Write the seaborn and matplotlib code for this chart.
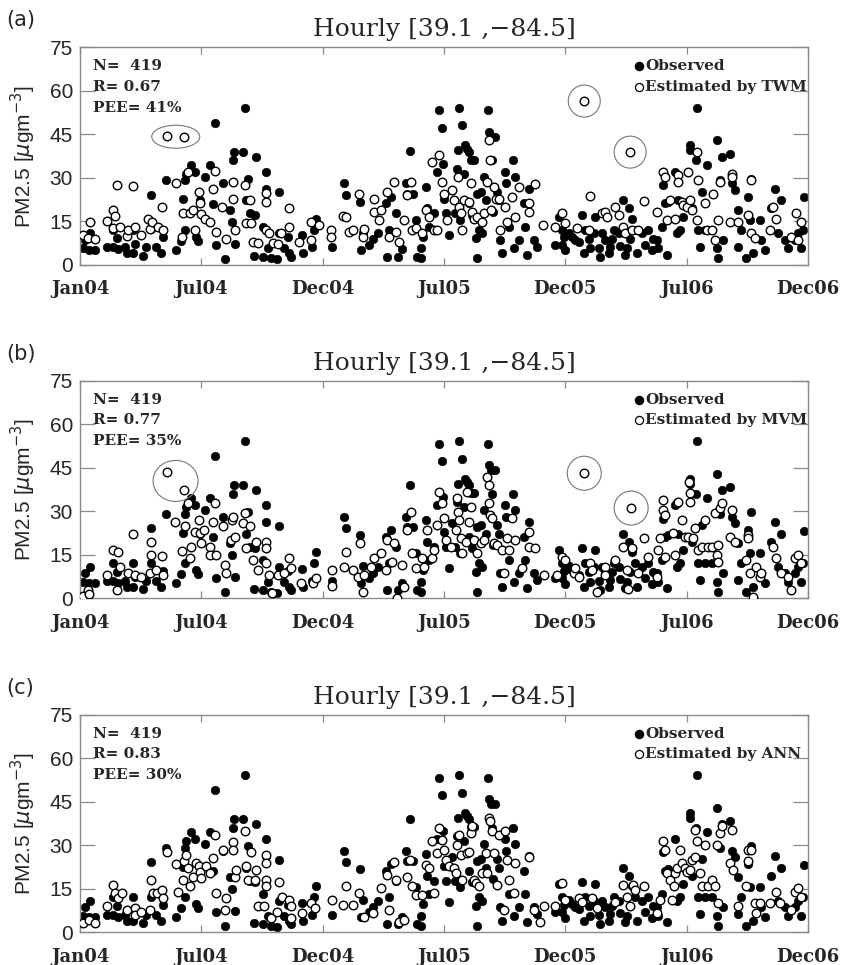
import matplotlib
matplotlib.use("Agg")
import numpy as np
import matplotlib.pyplot as plt
import seaborn as sns
from matplotlib.patches import Ellipse
from matplotlib.transforms import ScaledTranslation

# x = days since 1 Jan 2004, y = PM2.5 (ug/m3)
obs_day = [5, 7.5, 15, 14, 22.5, 40, 50, 50, 55, 57.5,
           67.5, 70, 80, 80, 82.5, 95, 100, 107.5, 107.5, 115,
           122.5, 125, 130, 145, 152.5, 155, 157.5, 157.5, 160, 167.5,
           172.5, 175, 177.5, 180, 187.5, 196, 200, 202.5, 205, 215,
           218.5, 225, 228.5, 230, 231, 233, 245, 247.5, 250, 252.5,
           255, 261, 262.5, 265, 275, 276, 280, 280, 282.5, 287.5,
           296, 300, 299, 307.5, 312.5, 315, 317.5, 334, 335, 349,
           352.5, 355, 378.5, 396.5, 400, 421, 422.5, 425, 435, 440,
           447.5, 462.5, 465, 461, 467.5, 475, 479, 485, 490, 492.5,
           496, 501.5, 505, 507.5, 512.5, 512.5, 516, 520, 522.5, 525,
           532.5, 537.5, 540, 544, 546, 547.5, 550, 555, 560, 564,
           567.5, 569, 570, 571, 575, 577.5, 579, 582.5, 585, 585,
           587.5, 590, 592.5, 595, 597.5, 597.5, 600, 602.5, 605, 607.5,
           610, 614, 615, 617.5, 620, 621, 624, 627.5, 630, 632.5,
           635, 639, 641, 645, 651, 652.5, 655, 660, 667.5, 670,
           672.5, 675, 682.5, 687.5, 715, 720, 725, 740, 745, 755,
           757.5, 760, 767.5, 772.5, 775, 782.5, 785, 790, 797.5, 802.5,
           810, 817.5, 822.5, 826, 830, 835, 837.5, 845, 855, 867.5,
           870, 875, 877.5, 880, 882.5, 885, 895, 897.5, 900, 902.5,
           907.5, 917.5, 917.5, 920, 926, 927.5, 930, 932.5, 935, 940,
           942.5, 950, 957.5, 957.5, 960, 962.5, 965, 967.5, 977.5, 980,
           985, 989, 990, 995, 1002.5, 1005, 1007.5, 1010, 1012.5, 1022.5,
           1025, 1030, 1040, 1045, 1050, 1055, 1060, 1065, 1075, 1080,
           1087.5, 1089, 1085,
           725, 728, 730, 735, 750, 765, 780, 795, 800, 812,
           820, 828, 850, 860, 862]
obs_pm = [5.7, 8.6, 10.9, 5.2, 5.2, 6.1, 6.1, 12.0, 9.2, 5.4,
          6.1, 4.0, 4.0, 12.0, 7.4, 3.1, 6.1, 24.1, 12.3, 6.1,
          4.0, 9.5, 29.2, 5.2, 8.4, 22.6, 29.2, 12.0, 31.5, 34.4,
          32.1, 9.7, 8.4, 22.3, 30.4, 34.4, 21.0, 49.0, 6.9, 28.1,
          2.1, 18.9, 14.9, 36.1, 38.9, 7.4, 38.9, 54.1, 22.3, 29.8,
          17.8, 3.1, 17.2, 37.2, 13.2, 2.9, 32.1, 26.3, 5.7, 2.3,
          1.9, 25.0, 10.9, 5.7, 9.5, 4.0, 2.9, 10.2, 4.0, 6.1,
          12.0, 16.0, 6.1, 28.1, 24.1, 21.8, 5.2, 11.1, 6.9, 8.8,
          10.9, 2.9, 12.0, 21.2, 23.5, 17.8, 2.9, 5.4, 28.1, 24.6,
          39.2, 24.6, 15.5, 2.9, 5.7, 2.3, 9.7, 26.9, 19.5, 13.2,
          17.8, 32.1, 53.3, 47.3, 34.9, 22.9, 17.8, 10.3, 25.8, 17.8,
          33.2, 39.5, 54.2, 15.5, 48.1, 31.5, 41.2, 40.1, 38.9, 21.2,
          36.3, 17.2, 36.3, 9.2, 24.6, 2.3, 12.0, 25.2, 10.9, 30.4,
          22.3, 53.3, 45.8, 44.3, 36.1, 18.3, 44.1, 25.2, 22.3, 8.6,
          4.0, 32.1, 28.1, 13.2, 36.1, 5.7, 30.4, 8.6, 21.2, 13.2,
          3.4, 26.3, 8.6, 6.3, 6.9, 16.6, 12.0, 9.7, 8.6, 17.2,
          4.0, 12.0, 5.7, 10.9, 16.6, 2.9, 10.9, 8.6, 6.3, 12.0,
          10.9, 22.3, 5.7, 19.5, 16.0, 12.0, 4.0, 10.9, 12.0, 8.6,
          5.7, 13.2, 27.5, 21.2, 3.4, 21.8, 32.1, 10.9, 22.3, 12.0,
          16.6, 41.2, 39.5, 19.5, 36.1, 54.2, 12.0, 6.3, 25.2, 12.0,
          34.4, 12.0, 43.0, 5.7, 2.3, 29.2, 37.2, 8.6, 38.4, 28.1,
          25.8, 18.9, 6.3, 12.0, 2.3, 23.5, 15.5, 29.8, 4.0, 15.5,
          8.6, 5.2, 19.5, 26.3, 10.9, 22.3, 8.6, 5.7, 8.6, 10.9,
          12.0, 23.3, 5.7,
          7.0, 9.5, 5.0, 11.0, 8.0, 9.0, 6.0, 4.0, 9.0, 6.5,
          3.5, 9.0, 7.0, 5.0, 9.0]

twm_day = [5, 12.5, 15, 22.5, 40, 49, 50, 52.5, 56, 60,
           70, 72.5, 79, 82.5, 92.5, 102.5, 105, 109, 117.5, 124,
           125, 144, 155, 154, 162.5, 165, 170, 172.5, 179, 180,
           182.5, 187.5, 195, 200, 202.5, 205, 214, 220, 230, 230,
           232.5, 247.5, 250, 255, 257.5, 260, 267.5, 280, 280, 280,
           285, 290, 297.5, 302.5, 314, 315, 330, 347.5, 347.5, 360,
           377.5, 377.5, 395, 400, 405, 410, 420, 425, 427.5, 442.5,
           450, 442.5, 452.5, 462.5, 465, 472.5, 475, 480, 487.5, 492.5,
           497.5, 500, 505, 515, 520, 525, 530, 532.5, 537.5, 540,
           545, 547.5, 552.5, 560, 562.5, 569, 570, 572.5, 575, 577.5,
           585, 587.5, 590, 592.5, 597.5, 605, 607.5, 612.5, 615, 616,
           617.5, 622.5, 625, 630, 632.5, 640, 642.5, 650, 655, 660,
           675, 675, 685, 696, 715, 725, 730, 747.5, 765, 767.5,
           785, 790, 792.5, 805, 810, 817.5, 820, 830, 840, 849,
           867.5, 877.5, 880, 882.5, 887.5, 895, 900, 900, 905, 907.5,
           912.5, 915, 917.5, 920, 927.5, 930, 927.5, 940, 942.5, 950,
           952.5, 955, 960, 962.5, 977.5, 980, 980, 990, 1005, 1010,
           1010, 1015, 1037.5, 1042.5, 1047.5, 1070, 1077.5, 1085, 1080]
twm_pm = [10.3, 9.2, 14.9, 8.8, 15.2, 18.9, 12.6, 16.8, 27.5, 13.2,
          10.0, 12.0, 27.1, 13.2, 10.3, 16.0, 12.3, 14.9, 13.2, 20.0,
          12.0, 28.3, 18.0, 9.7, 32.1, 17.8, 18.9, 12.0, 25.2, 21.4,
          17.5, 16.0, 14.9, 26.3, 32.4, 11.5, 20.0, 8.8, 28.6, 22.8,
          12.0, 27.5, 14.5, 22.3, 14.3, 8.0, 7.7, 24.9, 21.8, 12.0,
          10.9, 7.7, 7.4, 10.9, 19.5, 13.2, 8.0, 14.9, 8.6, 13.7,
          12.0, 9.7, 17.0, 16.6, 11.5, 12.0, 24.3, 9.7, 12.3, 18.3,
          15.5, 22.9, 18.9, 25.2, 9.7, 28.6, 11.5, 8.0, 15.5, 24.1,
          28.6, 12.0, 12.6, 10.9, 18.9, 16.6, 35.5, 12.0, 12.0, 37.8,
          28.6, 24.6, 15.5, 25.8, 22.3, 30.4, 20.0, 17.8, 12.0, 22.3,
          21.8, 28.3, 18.3, 16.0, 16.6, 14.9, 17.8, 28.6, 43.2, 36.3,
          18.9, 26.9, 22.9, 22.9, 12.0, 20.0, 14.9, 23.5, 16.6, 26.9,
          21.2, 18.3, 27.8, 13.7, 13.2, 17.8, 14.3, 12.6, 12.0, 23.7,
          17.8, 18.3, 16.6, 20.0, 17.2, 13.2, 10.9, 12.0, 12.0, 22.0,
          18.3, 32.1, 30.4, 15.5, 22.3, 16.0, 30.9, 28.6, 21.8, 20.6,
          20.0, 32.1, 22.3, 18.9, 38.9, 29.2, 15.5, 21.2, 12.0, 12.0,
          24.6, 8.6, 15.5, 28.6, 14.9, 31.5, 30.4, 14.9, 17.2, 29.2,
          10.9, 9.2, 12.0, 20.0, 16.0, 9.7, 17.8, 14.9, 8.6]
# circled estimates: first two share an ellipse, last two get rings
twm_flag_day = [131.5, 156.5, 758.5, 827.5]
twm_flag_pm = [44.3, 44.1, 56.5, 38.9]

mvm_day = [5, 12.5, 14, 40, 50, 55, 57.5, 60, 72.5, 79,
           82.5, 92.5, 105, 107.5, 107.5, 115, 124, 125, 142.5, 154,
           157.5, 162.5, 165, 167.5, 172.5, 178.5, 180, 181.5, 186, 195,
           196, 202.5, 200, 205, 215, 217.5, 220, 227.5, 228.5, 230,
           232.5, 245, 247.5, 250, 256, 260, 265, 267.5, 280, 280,
           280, 284, 289, 297.5, 307.5, 315, 317.5, 332.5, 350, 355,
           379, 379, 397.5, 400, 410, 417.5, 421, 425, 427.5, 437.5,
           442.5, 452.5, 460, 462.5, 470, 472.5, 477.5, 485, 487.5, 492.5,
           497.5, 500, 505, 515, 517.5, 522.5, 530, 532.5, 537.5, 540,
           545, 547.5, 550, 557.5, 565, 567.5, 569, 570, 572.5, 575,
           580, 582.5, 585, 587.5, 592.5, 597.5, 602.5, 607.5, 612.5, 615,
           615, 616, 619, 622.5, 627.5, 635, 637.5, 642.5, 645, 655,
           650, 665, 675, 675, 685, 697.5, 717.5, 725, 730, 742.5,
           745, 750, 767.5, 770, 777.5, 790, 790, 805, 817.5, 822.5,
           824, 830, 840, 849, 855, 867.5, 870, 872.5, 877.5, 877.5,
           880, 880, 892.5, 895, 897.5, 900, 905, 910, 914, 916,
           917.5, 917.5, 922.5, 925, 930, 935, 940, 945, 950, 955,
           957.5, 960, 960, 962.5, 965, 977.5, 980, 985, 1002.5, 1005,
           1005, 1007.5, 1012.5, 1017.5, 1022.5, 1025, 1042.5, 1047.5, 1055, 1065,
           1070, 1075, 1080, 1085]
mvm_pm = [0.8, 2.9, 1.5, 8.0, 16.6, 2.9, 16.1, 10.9, 8.6, 22.2,
          8.0, 7.5, 8.6, 19.5, 14.9, 9.8, 14.6, 8.0, 26.4, 16.3,
          24.9, 33.0, 13.8, 17.8, 23.0, 27.0, 22.4, 18.9, 23.5, 17.8,
          14.9, 32.7, 26.2, 14.9, 24.9, 11.5, 8.6, 20.1, 27.0, 27.9,
          21.2, 25.8, 29.3, 17.2, 25.0, 13.2, 19.5, 9.8, 19.3, 17.2,
          12.1, 8.0, 1.7, 8.0, 8.6, 13.8, 10.3, 5.2, 5.2, 6.9,
          9.8, 4.2, 10.9, 16.1, 9.8, 7.5, 18.9, 2.3, 8.0, 10.9,
          13.8, 15.5, 9.8, 20.1, 12.6, 18.9, 0.0, 11.5, 4.0, 23.5,
          29.9, 15.5, 10.3, 13.8, 10.9, 23.5, 13.8, 16.6, 25.3, 36.7,
          32.7, 27.6, 20.1, 17.8, 23.5, 34.4, 29.9, 27.0, 20.7, 15.5,
          19.5, 36.7, 26.4, 31.6, 20.1, 15.5, 18.9, 20.1, 41.9, 39.0,
          32.7, 28.7, 27.6, 18.9, 18.4, 16.6, 8.6, 20.7, 16.6, 20.1,
          27.6, 10.3, 17.8, 23.0, 17.2, 8.0, 8.0, 14.4, 13.2, 8.6,
          10.3, 7.5, 12.1, 9.8, 2.3, 10.9, 8.0, 13.2, 17.8, 9.8,
          3.1, 17.2, 8.6, 20.7, 14.4, 7.5, 16.6, 20.7, 33.9, 30.4,
          28.7, 14.4, 22.4, 14.9, 32.7, 33.3, 27.0, 21.2, 21.2, 40.2,
          36.2, 33.3, 20.7, 24.1, 16.6, 17.8, 27.0, 17.8, 17.8, 29.3,
          14.9, 18.4, 12.6, 31.0, 32.7, 21.2, 30.4, 19.5, 13.2, 21.8,
          20.7, 8.6, 0.6, 10.9, 7.5, 8.6, 17.8, 13.8, 8.6, 7.5,
          2.9, 13.8, 14.9, 12.1]
mvm_flag_day = [131, 156.5, 758.5, 829]
mvm_flag_pm = [43.6, 37.3, 43.1, 31.1]

ann_day = [5, 14, 22.5, 40, 50, 52.5, 57.5, 62.5, 70, 82.5,
           82.5, 92.5, 105, 107.5, 110, 116, 124, 125, 131, 144,
           147.5, 155, 156, 160, 162.5, 165, 170, 175, 179, 180,
           182.5, 190, 195, 200, 202.5, 205, 215, 217.5, 220, 230,
           230, 232.5, 234, 247.5, 250, 252.5, 257.5, 262.5, 265, 267.5,
           277.5, 280, 280, 280, 280, 287.5, 296, 300, 304, 315,
           317.5, 317.5, 334, 347.5, 354, 379, 395, 400, 410, 420,
           427.5, 440, 452.5, 462.5, 465, 472.5, 475, 480, 487.5, 492.5,
           496, 500, 505, 515, 520, 525, 530, 532.5, 537.5, 540,
           545, 547.5, 550, 555, 562.5, 565, 567.5, 570, 572.5, 575,
           582.5, 585, 587.5, 590, 592.5, 595, 600, 605, 610, 612.5,
           615, 616, 619, 622.5, 627.5, 630, 637.5, 640, 642.5, 645,
           652.5, 655, 675, 682.5, 692.5, 697.5, 715, 725, 730, 750,
           755, 770, 777.5, 805, 817.5, 822.5, 827.5, 832.5, 835, 849,
           867.5, 872.5, 877.5, 880, 882.5, 887.5, 890, 894, 895, 897.5,
           902.5, 905, 910, 912.5, 917.5, 920, 925, 925, 927.5, 932.5,
           935, 940, 945, 950, 955, 957.5, 960, 962.5, 965, 977.5,
           980, 982.5, 990, 1002.5, 1005, 1005, 1010, 1015, 1017.5, 1022.5,
           1037.5, 1047.5, 1052.5, 1070, 1075, 1080, 1085]
ann_pm = [3.1, 4.3, 3.1, 8.9, 16.3, 13.5, 11.7, 13.5, 7.7, 8.3,
          6.0, 7.1, 7.7, 18.1, 13.5, 13.5, 14.6, 11.7, 27.5, 23.6,
          14.0, 18.1, 24.4, 26.5, 22.1, 15.8, 19.2, 23.8, 22.7, 20.9,
          18.6, 22.7, 20.4, 25.5, 33.6, 13.5, 28.4, 7.7, 11.7, 31.0,
          28.4, 19.2, 21.5, 34.8, 22.7, 18.1, 27.8, 18.1, 21.5, 8.9,
          8.9, 26.7, 23.8, 18.1, 15.8, 4.8, 7.1, 17.5, 12.3, 11.2,
          4.8, 8.9, 6.6, 10.0, 8.3, 11.2, 9.4, 15.8, 9.4, 13.5,
          5.4, 6.6, 15.2, 19.8, 7.7, 24.2, 18.1, 3.7, 4.3, 19.2,
          25.0, 15.8, 12.9, 12.9, 23.2, 22.1, 31.3, 13.5, 27.3, 35.9,
          31.9, 28.4, 25.0, 22.7, 22.1, 20.4, 30.2, 33.6, 26.7, 18.1,
          27.3, 27.8, 34.2, 36.5, 18.1, 16.9, 15.8, 20.4, 27.3, 20.4,
          39.4, 38.2, 34.8, 27.3, 16.3, 33.6, 7.7, 34.8, 25.0, 18.1,
          13.5, 23.8, 26.1, 7.7, 3.7, 8.9, 8.9, 16.9, 11.2, 11.7,
          10.6, 11.7, 8.3, 10.6, 16.3, 12.3, 8.9, 16.3, 14.6, 15.8,
          6.6, 11.2, 31.3, 28.4, 20.4, 18.1, 11.2, 15.8, 20.4, 22.1,
          28.4, 23.8, 22.1, 20.9, 21.5, 25.0, 26.1, 35.3, 31.3, 20.4,
          15.8, 30.2, 15.8, 18.1, 15.8, 30.2, 10.0, 34.2, 36.5, 23.8,
          35.3, 21.5, 8.9, 15.8, 24.4, 28.4, 28.4, 10.0, 6.6, 10.0,
          10.0, 14.0, 10.0, 7.7, 14.0, 15.2, 12.3]

panel_tags = ["(a)", "(b)", "(c)"]
methods = ["TWM", "MVM", "ANN"]
r_values = ["0.67", "0.77", "0.83"]
pee_values = ["41%", "35%", "30%"]
n_obs = 419
tick_labels = ["Jan04", "Jul04", "Dec04", "Jul05", "Dec05", "Jul06", "Dec06"]

assert len(obs_day) == len(obs_pm)
assert len(twm_day) == len(twm_pm)
assert len(mvm_day) == len(mvm_pm)
assert len(ann_day) == len(ann_pm)

est = [(twm_day, twm_pm, twm_flag_day, twm_flag_pm),
       (mvm_day, mvm_pm, mvm_flag_day, mvm_flag_pm),
       (ann_day, ann_pm, [], [])]
ellipse_size = [(0.48, 0.23), (0.45, 0.41), None]
ring_size = [530, 600, None]

sns.set_style("white")
plt.rcParams["font.family"] = ["DejaVu Serif", "DejaVu Sans"]

fig = plt.figure(figsize=(8.42, 9.65), dpi=100)
frame = "#8a8a8a"
bottoms = [0.7254, 0.3800, 0.0339]
height = 0.2255
serif_bold = dict(family="DejaVu Serif", weight="bold", fontsize=11)
dot = 38

for i in range(3):
    ax = fig.add_axes([0.095, bottoms[i], 0.8646, height])
    e_day, e_pm, f_day, f_pm = est[i]

    sns.scatterplot(x=obs_day, y=obs_pm, ax=ax, color="black", edgecolor="black",
                    s=dot, linewidth=0.4, legend=False, zorder=2)
    sns.scatterplot(x=e_day, y=e_pm, ax=ax, color="white", edgecolor="black",
                    s=dot, linewidth=1.0, legend=False, zorder=3)
    if f_day:
        sns.scatterplot(x=f_day, y=f_pm, ax=ax, color="white", edgecolor="black",
                        s=dot, linewidth=1.0, legend=False, zorder=3)
        # grey ellipse round the first pair, rings round the other two
        cx, cy = np.mean(f_day[:2]), np.mean(f_pm[:2])
        w, h = ellipse_size[i]
        trans = fig.dpi_scale_trans + ScaledTranslation(cx, cy, ax.transData)
        ax.add_patch(Ellipse((0, 0), w, h, transform=trans, fill=False,
                             ec="#777777", lw=0.8, zorder=4))
        ax.scatter(f_day[2:], f_pm[2:], s=ring_size[i], facecolors="none",
                   edgecolors="#777777", linewidths=0.8, zorder=4)

    ax.set_xlim(0, 1095)
    ax.set_ylim(0, 75)
    ax.set_xticks(np.arange(7) * 182.5)
    ax.set_xticklabels(tick_labels, fontdict=dict(family="DejaVu Serif", weight="bold", size=13))
    ax.set_yticks(np.arange(0, 76, 15))
    ax.set_yticklabels([str(v) for v in range(0, 76, 15)],
                       fontdict=dict(family="Liberation Sans", size=15))
    ax.tick_params(axis="x", direction="in", length=5, width=0.9, color=frame,
                   top=True, bottom=True, pad=11)
    ax.tick_params(axis="y", direction="in", length=11, width=0.9, color=frame,
                   left=True, right=True, pad=5)
    for sp in ax.spines.values():
        sp.set_color(frame)
        sp.set_linewidth(1.0)

    ax.set_xlabel("")
    ax.set_ylabel("PM2.5 [$\\mu$gm$^{-3}$]", family="Liberation Sans", fontsize=15)
    ax.yaxis.set_label_coords(-0.058, 0.5)
    ax.set_title("Hourly [39.1 ,\u221284.5]", family="DejaVu Serif", fontsize=18, pad=8)

    top_px = (1 - bottoms[i] - height) * 965
    fig.text(0.008, 1 - (top_px - 27) / 965, panel_tags[i], family="DejaVu Sans",
             fontsize=15, va="center", ha="left")

    ax.text(0.018, 0.913, "N=  %d" % n_obs, transform=ax.transAxes, va="center", **serif_bold)
    ax.text(0.018, 0.818, "R= " + r_values[i], transform=ax.transAxes, va="center", **serif_bold)
    ax.text(0.018, 0.723, "PEE= " + pee_values[i], transform=ax.transAxes, va="center", **serif_bold)

    ax.scatter([0.768], [0.913], transform=ax.transAxes, s=34, color="black", zorder=5)
    ax.scatter([0.768], [0.818], transform=ax.transAxes, s=34, facecolors="white",
               edgecolors="black", linewidths=0.9, zorder=5)
    ax.text(0.776, 0.913, "Observed", transform=ax.transAxes, va="center", **serif_bold)
    ax.text(0.776, 0.818, "Estimated by " + methods[i], transform=ax.transAxes,
            va="center", **serif_bold)

fig.savefig("out.png", dpi=100)
